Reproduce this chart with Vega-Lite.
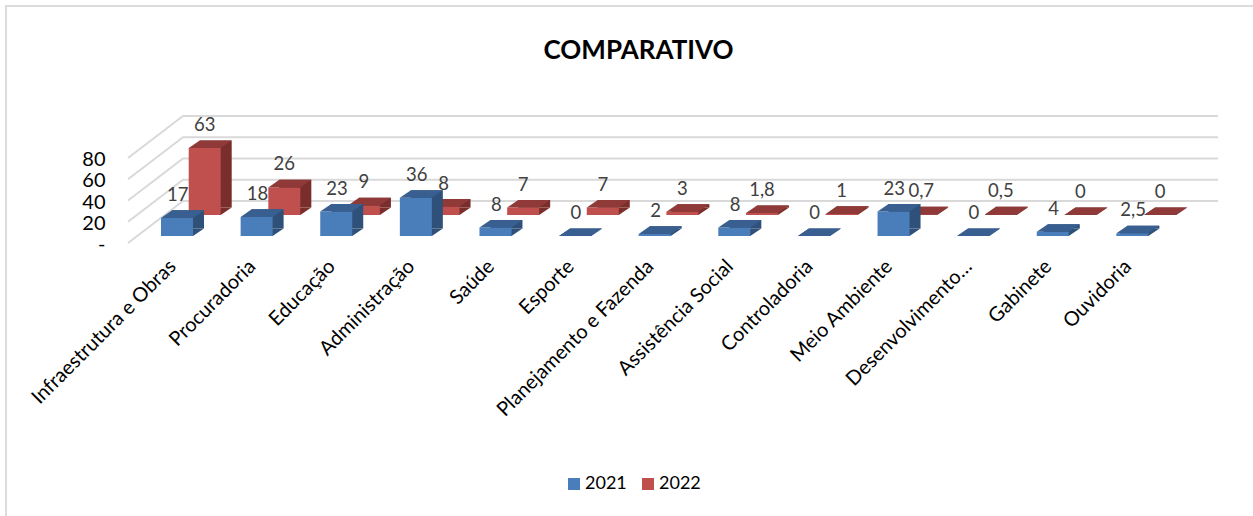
{
  "$schema": "https://vega.github.io/schema/vega-lite/v6.json",
  "width": 1035,
  "height": 85,
  "autosize": "none",
  "padding": {"left": 128, "top": 158, "right": 90, "bottom": 273},
  "background": "white",
  "config": {
    "view": {"stroke": null},
    "font": "Lato",
    "locale": {"number": {"decimal": ",", "thousands": ".", "grouping": [3], "currency": ["R$", ""]}}
  },
  "title": {
    "text": "COMPARATIVO",
    "font": "Lato",
    "fontSize": 26,
    "fontWeight": "bold",
    "color": "#000000",
    "anchor": "middle",
    "dx": -7,
    "offset": -62
  },
  "datasets": {
    "linhas": [{"nivel": 0}, {"nivel": 20}, {"nivel": 40}, {"nivel": 60}, {"nivel": 80}],
    "obras": [
      {"area": "Infraestrutura e Obras", "ano": "2021", "valor": 17},
      {"area": "Procuradoria", "ano": "2021", "valor": 18},
      {"area": "Educação", "ano": "2021", "valor": 23},
      {"area": "Administração", "ano": "2021", "valor": 36},
      {"area": "Saúde", "ano": "2021", "valor": 8},
      {"area": "Esporte", "ano": "2021", "valor": 0},
      {"area": "Planejamento e Fazenda", "ano": "2021", "valor": 2},
      {"area": "Assistência Social", "ano": "2021", "valor": 8},
      {"area": "Controladoria", "ano": "2021", "valor": 0},
      {"area": "Meio Ambiente", "ano": "2021", "valor": 23},
      {"area": "Desenvolvimento…", "ano": "2021", "valor": 0},
      {"area": "Gabinete", "ano": "2021", "valor": 4},
      {"area": "Ouvidoria", "ano": "2021", "valor": 2.5},
      {"area": "Infraestrutura e Obras", "ano": "2022", "valor": 63},
      {"area": "Procuradoria", "ano": "2022", "valor": 26},
      {"area": "Educação", "ano": "2022", "valor": 9},
      {"area": "Administração", "ano": "2022", "valor": 8},
      {"area": "Saúde", "ano": "2022", "valor": 7},
      {"area": "Esporte", "ano": "2022", "valor": 7},
      {"area": "Planejamento e Fazenda", "ano": "2022", "valor": 3},
      {"area": "Assistência Social", "ano": "2022", "valor": 1.8},
      {"area": "Controladoria", "ano": "2022", "valor": 1},
      {"area": "Meio Ambiente", "ano": "2022", "valor": 0.7},
      {"area": "Desenvolvimento…", "ano": "2022", "valor": 0.5},
      {"area": "Gabinete", "ano": "2022", "valor": 0},
      {"area": "Ouvidoria", "ano": "2022", "valor": 0}
    ]
  },
  "data": {"name": "obras"},
  "encoding": {
    "x": {
      "field": "area",
      "type": "nominal",
      "sort": null,
      "scale": {"paddingInner": 0, "paddingOuter": 0},
      "axis": {
        "title": null,
        "domain": false,
        "ticks": false,
        "labelAngle": -45,
        "labelAlign": "right",
        "labelBaseline": "middle",
        "labelFont": "Lato",
        "labelFontSize": 20,
        "labelColor": "#000000",
        "labelPadding": 20,
        "labelOffset": 5,
        "labelLimit": 300
      }
    },
    "y": {
      "field": "valor",
      "type": "quantitative",
      "scale": {"domain": [0, 80]},
      "axis": {
        "title": null,
        "values": [0, 20, 40, 60, 80],
        "domain": false,
        "ticks": false,
        "grid": false,
        "labelFont": "Lato",
        "labelFontSize": 20,
        "labelColor": "#000000",
        "labelPadding": 23,
        "labelOffset": 1.5,
        "labelExpr": "datum.value === 0 ? '-' : datum.label"
      }
    }
  },
  "layer": [
    {
      "data": {"values": [{"nivel": 0}]},
      "mark": {"type": "point", "shape": "M-122 358L-122 -152L1125 -152", "size": 4, "filled": false, "stroke": "#dcdcdc", "strokeWidth": 2, "opacity": 1},
      "encoding": {"x": {"value": 0}, "y": {"value": 0}}
    },
    {
      "data": {"name": "linhas"},
      "mark": {"type": "point", "shape": "M0 0L55 -42L1090 -42", "size": 4, "filled": false, "stroke": "#d9d9d9", "strokeWidth": 2, "opacity": 1},
      "encoding": {"x": {"value": 0}, "y": {"field": "nivel", "type": "quantitative"}}
    },
    {
      "transform": [{"filter": "datum.ano === '2022'"}],
      "layer": [
        {"mark": {"type": "bar", "size": 32, "fill": "#7a2e2c", "xOffset": 47.9, "yOffset": -35.6}},
        {"mark": {"type": "point", "shape": "M-16 0L16 0L27 -7.6L-5 -7.6Z", "size": 4, "filled": true, "fill": "#7a2e2c", "stroke": null, "opacity": 1, "xOffset": 36.9, "yOffset": -28}, "encoding": {"y": {"datum": 0}}},
        {"mark": {"type": "bar", "size": 32, "xOffset": 36.9, "yOffset": -28}, "encoding": {"color": {"field": "ano", "type": "nominal"}}},
        {"mark": {"type": "point", "shape": "M-16 0L16 0L27 -7.6L-5 -7.6Z", "size": 4, "filled": true, "fill": "#8f3a38", "stroke": null, "opacity": 1, "xOffset": 36.9, "yOffset": -28}},
        {"mark": {"type": "text", "fontSize": 18.5, "font": "Lato", "color": "#404040", "baseline": "middle", "xOffset": 36.9, "yOffset": -51}, "encoding": {"text": {"field": "valor", "type": "quantitative", "format": "~g"}}}
      ]
    },
    {
      "transform": [{"filter": "datum.ano === '2021'"}],
      "layer": [
        {"mark": {"type": "bar", "size": 32, "fill": "#2f5179", "xOffset": 20.2, "yOffset": -14.6}},
        {"mark": {"type": "point", "shape": "M-16 0L16 0L27 -7.6L-5 -7.6Z", "size": 4, "filled": true, "fill": "#2f5179", "stroke": null, "opacity": 1, "xOffset": 9.2, "yOffset": -7}, "encoding": {"y": {"datum": 0}}},
        {
          "mark": {"type": "bar", "size": 32, "xOffset": 9.2, "yOffset": -7},
          "encoding": {
            "color": {
              "field": "ano",
              "type": "nominal",
              "scale": {"domain": ["2021", "2022"], "range": ["#4a7ebb", "#c0504d"]},
              "legend": {
                "orient": "none",
                "legendX": 437,
                "legendY": 317,
                "direction": "horizontal",
                "title": null,
                "symbolType": "square",
                "symbolSize": 144,
                "symbolStrokeWidth": 0,
                "labelFont": "Lato",
                "labelFontSize": 18,
                "labelOffset": 2,
                "labelColor": "#000000",
                "columnPadding": 12
              }
            }
          }
        },
        {"mark": {"type": "point", "shape": "M-16 0L16 0L27 -7.6L-5 -7.6Z", "size": 4, "filled": true, "fill": "#385f90", "stroke": null, "opacity": 1, "xOffset": 9.2, "yOffset": -7}},
        {"mark": {"type": "text", "fontSize": 18.5, "font": "Lato", "color": "#404040", "baseline": "middle", "xOffset": 10, "yOffset": -30}, "encoding": {"text": {"field": "valor", "type": "quantitative", "format": "~g"}}}
      ]
    }
  ]
}
